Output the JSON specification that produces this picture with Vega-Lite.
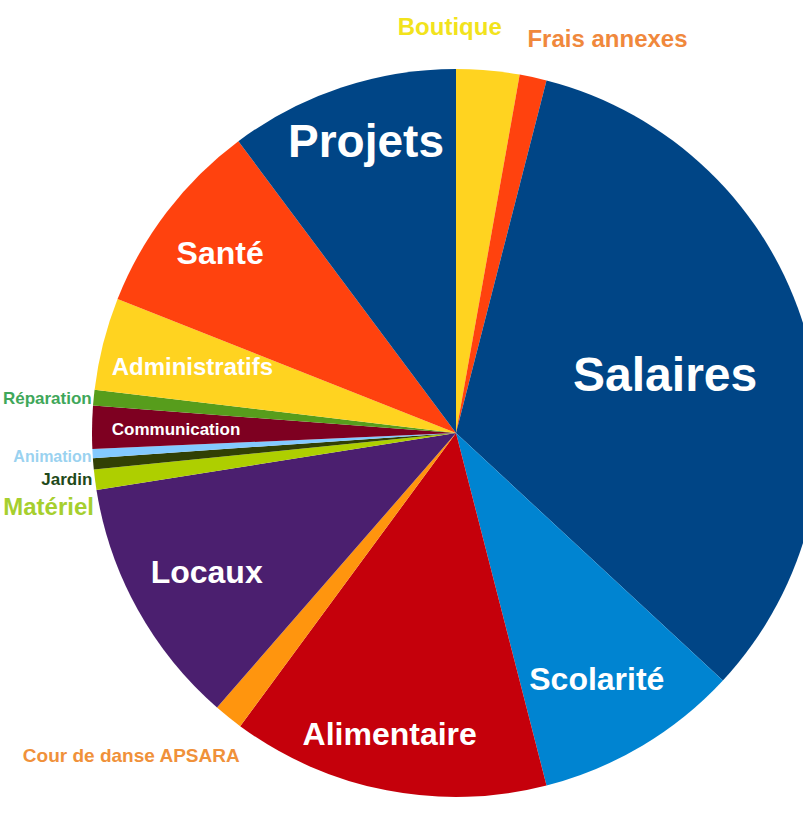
{
  "$schema": "https://vega.github.io/schema/vega-lite/v6.json",
  "width": 694,
  "height": 780,
  "autosize": {"type": "none"},
  "padding": {"left": 109, "top": 43, "right": 0, "bottom": 0},
  "background": "white",
  "config": {
    "view": {"stroke": null},
    "text": {"font": "Liberation Sans", "fontWeight": "bold", "baseline": "middle"}
  },
  "data": {
    "values": [
      {"rank": 1, "category": "Boutique", "value": 2.8},
      {"rank": 2, "category": "Frais annexes", "value": 1.2},
      {"rank": 3, "category": "Salaires", "value": 32.9},
      {"rank": 4, "category": "Scolarité", "value": 9.1},
      {"rank": 5, "category": "Alimentaire", "value": 14.1},
      {"rank": 6, "category": "Cour de danse APSARA", "value": 1.3},
      {"rank": 7, "category": "Locaux", "value": 11.1},
      {"rank": 8, "category": "Matériel", "value": 0.9},
      {"rank": 9, "category": "Jardin", "value": 0.5},
      {"rank": 10, "category": "Animation", "value": 0.4},
      {"rank": 11, "category": "Communication", "value": 1.9},
      {"rank": 12, "category": "Réparation", "value": 0.7},
      {"rank": 13, "category": "Administratifs", "value": 4.1},
      {"rank": 14, "category": "Santé", "value": 8.8},
      {"rank": 15, "category": "Projets", "value": 10.2}
    ]
  },
  "encoding": {
    "theta": {"field": "value", "type": "quantitative", "stack": true},
    "order": {"field": "rank", "type": "quantitative"},
    "detail": {"field": "category", "type": "nominal"}
  },
  "layer": [
    {
      "mark": {"type": "arc", "radius": 364},
      "encoding": {
        "color": {
          "field": "category",
          "type": "nominal",
          "legend": null,
          "scale": {
            "domain": ["Boutique", "Frais annexes", "Salaires", "Scolarité", "Alimentaire", "Cour de danse APSARA", "Locaux", "Matériel", "Jardin", "Animation", "Communication", "Réparation", "Administratifs", "Santé", "Projets"],
            "range": ["#ffd320", "#ff420e", "#004586", "#0084d1", "#c5000b", "#ff950e", "#4b1f6f", "#aecf00", "#314004", "#83caff", "#7e0021", "#579d1c", "#ffd320", "#ff420e", "#004586"]
          }
        }
      }
    },
    {
      "mark": {"type": "text", "radius": 308, "dx": 7, "dy": 2, "fontSize": 46, "color": "white"},
      "encoding": {"text": {"condition": {"test": "datum.category === 'Projets'", "field": "category", "type": "nominal"}, "value": ""}}
    },
    {
      "mark": {"type": "text", "radius": 218, "dy": 5, "fontSize": 48, "color": "white"},
      "encoding": {"text": {"condition": {"test": "datum.category === 'Salaires'", "field": "category", "type": "nominal"}, "value": ""}}
    },
    {
      "mark": {"type": "text", "radius": 283, "dx": -4, "dy": 4, "fontSize": 32, "color": "white"},
      "encoding": {"text": {"condition": {"test": "datum.category === 'Scolarité'", "field": "category", "type": "nominal"}, "value": ""}}
    },
    {
      "mark": {"type": "text", "radius": 306, "dx": -8, "dy": 2, "fontSize": 32, "color": "white"},
      "encoding": {"text": {"condition": {"test": "datum.category === 'Alimentaire'", "field": "category", "type": "nominal"}, "value": ""}}
    },
    {
      "mark": {"type": "text", "radius": 285, "dy": 2, "fontSize": 32, "color": "white"},
      "encoding": {"text": {"condition": {"test": "datum.category === 'Locaux'", "field": "category", "type": "nominal"}, "value": ""}}
    },
    {
      "mark": {"type": "text", "radius": 280, "dy": 1, "fontSize": 17, "color": "white"},
      "encoding": {"text": {"condition": {"test": "datum.category === 'Communication'", "field": "category", "type": "nominal"}, "value": ""}}
    },
    {
      "mark": {"type": "text", "radius": 272, "dy": 2, "fontSize": 24, "color": "white"},
      "encoding": {"text": {"condition": {"test": "datum.category === 'Administratifs'", "field": "category", "type": "nominal"}, "value": ""}}
    },
    {
      "mark": {"type": "text", "radius": 297, "dy": 2, "fontSize": 32, "color": "white"},
      "encoding": {"text": {"condition": {"test": "datum.category === 'Santé'", "field": "category", "type": "nominal"}, "value": ""}}
    },
    {
      "mark": {"type": "text", "radius": 407, "dx": -42, "fontSize": 24, "color": "#f2e31c"},
      "encoding": {"text": {"condition": {"test": "datum.category === 'Boutique'", "field": "category", "type": "nominal"}, "value": ""}}
    },
    {
      "mark": {"type": "text", "radius": 403, "dx": -14, "dy": 1, "align": "left", "fontSize": 24, "color": "#f0883c"},
      "encoding": {"text": {"condition": {"test": "datum.category === 'Frais annexes'", "field": "category", "type": "nominal"}, "value": ""}}
    },
    {
      "mark": {"type": "text", "radius": 362, "dx": -4, "dy": 1, "align": "right", "fontSize": 17, "color": "#3fa75a"},
      "encoding": {"text": {"condition": {"test": "datum.category === 'Réparation'", "field": "category", "type": "nominal"}, "value": ""}}
    },
    {
      "mark": {"type": "text", "radius": 359, "dx": -6, "dy": 4, "align": "right", "fontSize": 16, "color": "#9ad2f0"},
      "encoding": {"text": {"condition": {"test": "datum.category === 'Animation'", "field": "category", "type": "nominal"}, "value": ""}}
    },
    {
      "mark": {"type": "text", "radius": 361, "dx": -4, "dy": 16, "align": "right", "fontSize": 17, "color": "#1f4a1a"},
      "encoding": {"text": {"condition": {"test": "datum.category === 'Jardin'", "field": "category", "type": "nominal"}, "value": ""}}
    },
    {
      "mark": {"type": "text", "radius": 358, "dx": -7, "dy": 29, "align": "right", "fontSize": 24, "color": "#a6cf2e"},
      "encoding": {"text": {"condition": {"test": "datum.category === 'Matériel'", "field": "category", "type": "nominal"}, "value": ""}}
    },
    {
      "mark": {"type": "text", "radius": 410, "dx": 40, "dy": 3, "align": "right", "fontSize": 19, "color": "#f0913a"},
      "encoding": {"text": {"condition": {"test": "datum.category === 'Cour de danse APSARA'", "field": "category", "type": "nominal"}, "value": ""}}
    }
  ]
}
